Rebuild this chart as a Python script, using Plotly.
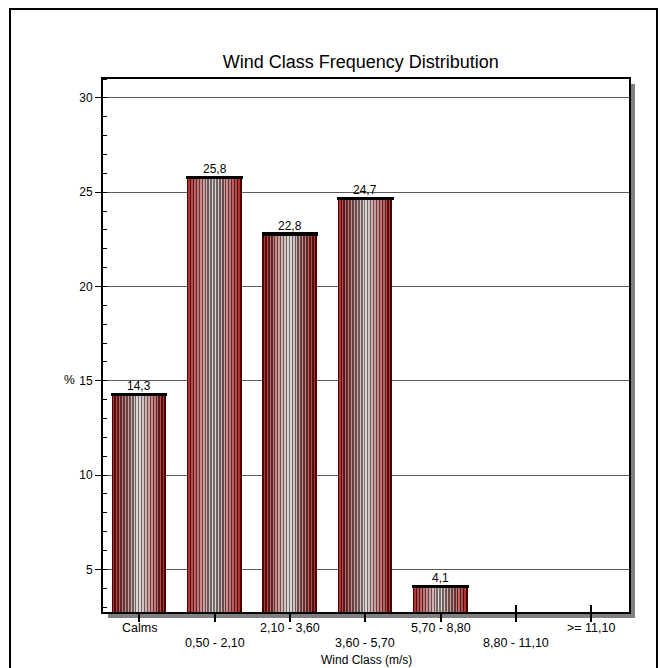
import plotly.graph_objects as go

# Wind class frequency data (%)
wind_classes = ["Calms", "0,50 - 2,10", "2,10 - 3,60", "3,60 - 5,70",
                "5,70 - 8,80", "8,80 - 11,10", ">= 11,10"]
frequency = [14.3, 25.8, 22.8, 24.7, 4.1, 0.0, 0.0]
y_ticks = [5, 10, 15, 20, 25, 30]

FONT = "Liberation Sans, Arial, sans-serif"
BAR_W = 0.72
N_STRIPS = 37


def blend(c0, c1, t):
    return "rgb({},{},{})".format(*[round(a + (b - a) * t) for a, b in zip(c0, c1)])


# striped "cylinder" shading: dark red edges, grey/white centre
strip_colors = []
half = N_STRIPS // 2
for k in range(N_STRIPS):
    i = min(k, N_STRIPS - 1 - k)
    t = (i / half) ** 0.9
    if i % 2 == 0:
        strip_colors.append(blend((75, 0, 0), (115, 112, 112), t))
    else:
        strip_colors.append(blend((175, 40, 40), (222, 222, 222), t))

fig = go.Figure()
sw = BAR_W / N_STRIPS
for k, col in enumerate(strip_colors):
    fig.add_trace(go.Bar(
        x=wind_classes, y=frequency, base=0,
        width=sw, offset=-BAR_W / 2 + k * sw,
        marker=dict(color=col, line=dict(width=0)),
        hoverinfo="skip", showlegend=False))

# black cap on top of each bar
fig.add_trace(go.Bar(
    x=wind_classes, y=[0.17] * len(frequency),
    base=[v - 0.1 for v in frequency],
    width=BAR_W + 0.03, offset=-(BAR_W + 0.03) / 2,
    marker=dict(color="black", line=dict(width=0)),
    hoverinfo="skip", showlegend=False))

# value labels
annotations = []
for c, v in zip(wind_classes, frequency):
    if v > 0:
        annotations.append(dict(
            x=c, y=v, xref="x", yref="y", text=f"{v:.1f}".replace(".", ","),
            showarrow=False, yanchor="bottom", yshift=-1,
            font=dict(family=FONT, size=12, color="black")))

px_x, px_y = 526, 533

# category labels, alternating on two rows under the axis
for i, c in enumerate(wind_classes):
    row_px = 628 if i % 2 == 0 else 643
    annotations.append(dict(
        x=c, y=(612 - row_px) / px_y, xref="x", yref="paper", text=c,
        showarrow=False, yanchor="middle",
        font=dict(family=FONT, size=12.5, color="black")))

annotations += [
    dict(text="%", x=-0.078, y=0.435, xref="paper", yref="paper",
         showarrow=False, font=dict(family=FONT, size=12, color="black")),
    dict(text="Wind Class (m/s)", x=0.5, y=(612 - 660) / px_y, xref="paper",
         yref="paper", showarrow=False, yanchor="middle",
         font=dict(family=FONT, size=12, color="black")),
]

# helper trace for the inside half of the x ticks
fig.add_trace(go.Scatter(x=[], y=[], xaxis="x2", yaxis="y", showlegend=False,
                         hoverinfo="skip"))

shapes = [
    # drop shadow right & bottom of plot frame
    dict(type="rect", xref="paper", yref="paper", layer="below",
         x0=1.0, x1=1 + 6 / px_x, y0=-6 / px_y, y1=1 - 5 / px_y,
         fillcolor="#808080", line=dict(width=0)),
    dict(type="rect", xref="paper", yref="paper", layer="below",
         x0=5 / px_x, x1=1 + 6 / px_x, y0=-6 / px_y, y1=0,
         fillcolor="#808080", line=dict(width=0)),
    # outer frame
    dict(type="rect", xref="paper", yref="paper", layer="below",
         x0=(10 - 103) / px_x, x1=(657 - 103) / px_x,
         y0=(612 - 720) / px_y, y1=(612 - 9) / px_y,
         line=dict(color="black", width=2), fillcolor="rgba(0,0,0,0)"),
]

x_range = [-0.48, 6.5]
fig.update_layout(
    width=660, height=668, autosize=False,
    margin=dict(l=103, r=31, t=79, b=56),
    paper_bgcolor="white", plot_bgcolor="white",
    barmode="overlay", bargap=0,
    font=dict(family=FONT, size=12, color="black"),
    title=dict(text="Wind Class Frequency Distribution",
               x=0.49, xref="paper", xanchor="center",
               y=1 - 62 / 668, yref="container", yanchor="middle",
               font=dict(family=FONT, size=18, color="black")),
    xaxis=dict(type="category", categoryorder="array", categoryarray=wind_classes,
               range=x_range, tickmode="array", tickvals=wind_classes,
               showticklabels=False, ticks="outside", ticklen=8, tickwidth=1.5,
               tickcolor="black", showline=True, linewidth=2, linecolor="black",
               mirror=True, showgrid=False, zeroline=False),
    xaxis2=dict(type="category", categoryorder="array", categoryarray=wind_classes,
                range=x_range, overlaying="x", anchor="y", side="bottom",
                tickmode="array", tickvals=wind_classes, ticks="inside",
                ticklen=7, tickwidth=1.5, tickcolor="black",
                showticklabels=False, showline=False, showgrid=False,
                zeroline=False, layer="below traces"),
    yaxis=dict(range=[2.74, 31], tickmode="array", tickvals=y_ticks,
               ticks="outside", ticklen=6, tickwidth=1, tickcolor="black",
               showline=True, linewidth=2, linecolor="black", mirror=True,
               showgrid=True, gridcolor="#5a5a5a", gridwidth=1, zeroline=False,
               minor=dict(dtick=1, tick0=0, ticks="inside", ticklen=4,
                          tickwidth=1, tickcolor="black", showgrid=False),
               tickfont=dict(family=FONT, size=12, color="black")),
    annotations=annotations,
    shapes=shapes,
)

fig.write_html("out.html")
